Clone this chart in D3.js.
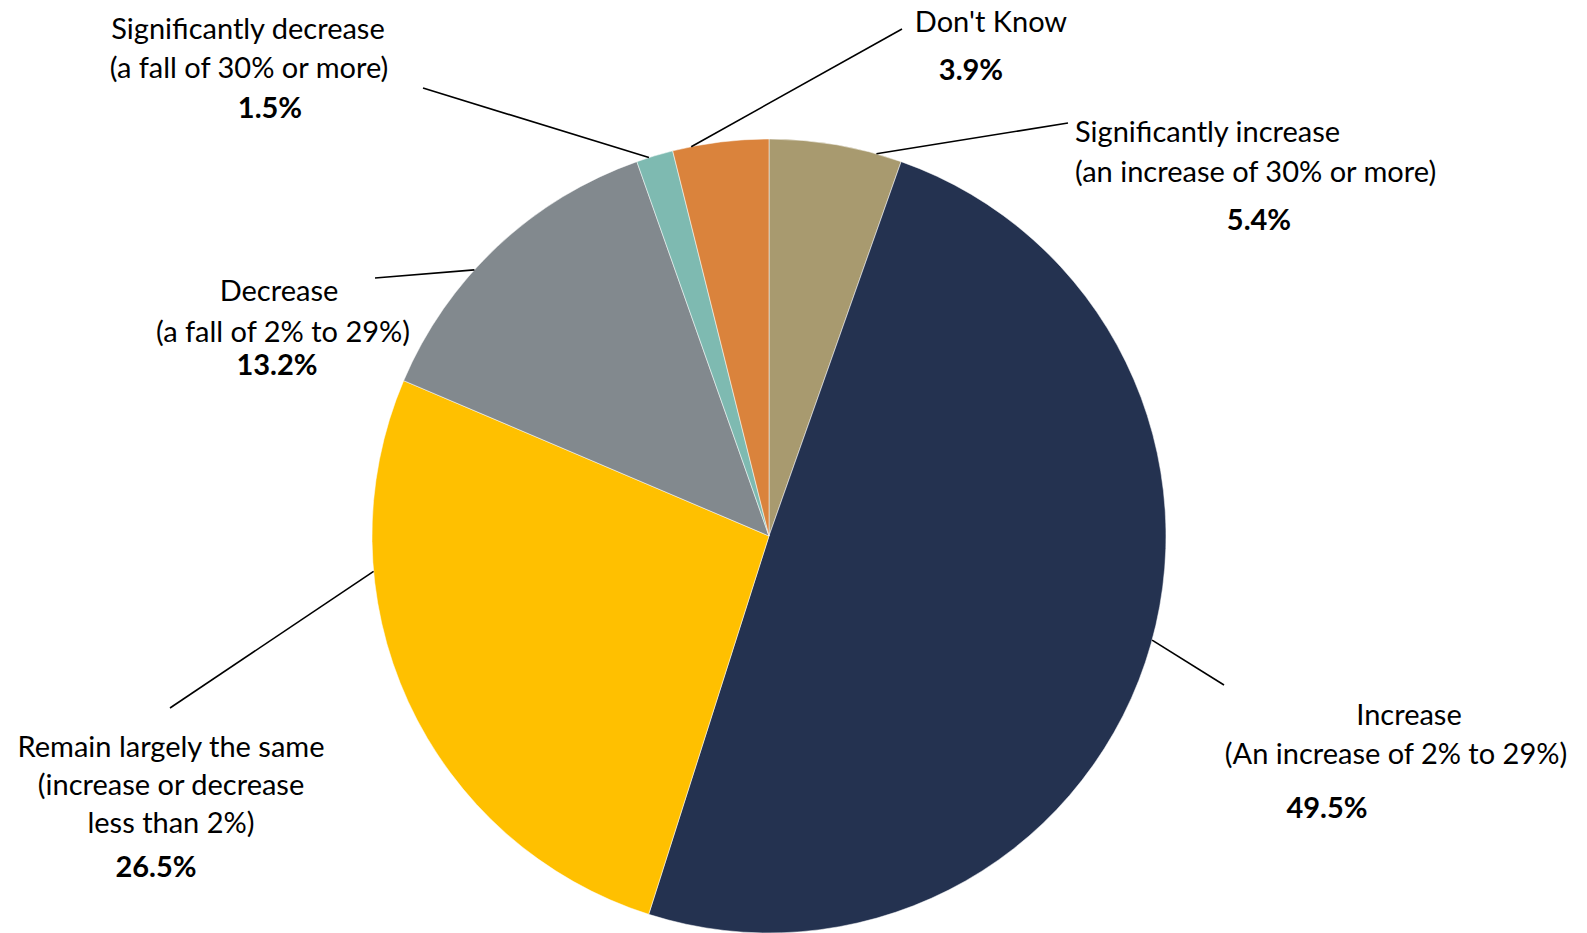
<!DOCTYPE html>
<html><head><meta charset="utf-8">
<script src="https://cdn.jsdelivr.net/npm/d3@7"></script>
<style>
html,body{margin:0;padding:0;background:#fff;}
svg text{font-family:Lato,"Open Sans",sans-serif;fill:#000;}
</style></head>
<body>
<svg id="chart" width="1587" height="933"></svg>
<script>
// Data
const categories = [
  "Significantly increase",
  "Increase",
  "Remain largely the same",
  "Decrease",
  "Significantly decrease",
  "Don't Know"
];
const values = [5.4, 49.5, 26.5, 13.2, 1.5, 3.9];
const labelLines = [
  ["Significantly increase", "(an increase of 30% or more)"],
  ["Increase", "(An increase of 2% to 29%)"],
  ["Remain largely the same", "(increase or decrease", "less than 2%)"],
  ["Decrease", "(a fall of 2% to 29%)"],
  ["Significantly decrease", "(a fall of 30% or more)"],
  ["Don't Know"]
];
const valueLabels = values.map(v => v.toFixed(1) + "%");
const colors = ["#A89A6F", "#243250", "#FFC000", "#82898E", "#7EBAB1", "#DA833C"];

// Layout (label placement)
const cx = 769, cy = 536, R = 397;
const fontSize = 29;
const layout = [
  {lineAngle: 15.7, lineEnd: [1068, 123], anchor: "start", lines: [[1075, 132], [1075, 172]], val: [1259, 220]},
  {lineAngle: 105.2, lineEnd: [1224, 685], anchor: "middle", lines: [[1409, 715], [1396, 754]], val: [1327, 808]},
  {lineAngle: 264.9, lineEnd: [170, 708], anchor: "middle", lines: [[171, 747], [171, 785], [171, 823]], val: [156, 867]},
  {lineAngle: 312.1, lineEnd: [375, 278], anchor: "middle", lines: [[279, 291], [283, 332]], val: [277, 365]},
  {lineAngle: 342.4, lineEnd: [423, 88], anchor: "middle", lines: [[248, 29], [249, 68]], val: [270, 108]},
  {lineAngle: 348.7, lineEnd: [902, 29], anchor: "middle", lines: [[991, 22]], val: [971, 70]}
];

const svg = d3.select("#chart");
const g = svg.append("g").attr("transform", `translate(${cx},${cy})`);

const pie = d3.pie().sort(null).value(d => d)(values);
const arc = d3.arc().innerRadius(0).outerRadius(R);

g.selectAll("path.slice").data(pie).join("path")
  .attr("class", "slice")
  .attr("d", arc)
  .attr("fill", (d, i) => colors[i])
  .attr("stroke", "#fff")
  .attr("stroke-width", 0.5);

// leader lines
const toRad = a => a * Math.PI / 180;
svg.selectAll("line.leader").data(layout).join("line")
  .attr("class", "leader")
  .attr("x1", d => cx + R * Math.sin(toRad(d.lineAngle)))
  .attr("y1", d => cy - R * Math.cos(toRad(d.lineAngle)))
  .attr("x2", d => d.lineEnd[0])
  .attr("y2", d => d.lineEnd[1])
  .attr("stroke", "#000")
  .attr("stroke-width", 1.6);

// labels
layout.forEach((L, i) => {
  labelLines[i].forEach((t, j) => {
    svg.append("text")
      .attr("x", L.lines[j][0])
      .attr("y", L.lines[j][1])
      .attr("dy", "0.36em")
      .attr("text-anchor", L.anchor)
      .attr("font-size", fontSize)
      .text(t);
  });
  svg.append("text")
    .attr("x", L.val[0])
    .attr("y", L.val[1])
    .attr("dy", "0.36em")
    .attr("text-anchor", "middle")
    .attr("font-size", fontSize)
    .attr("font-weight", "bold")
    .text(valueLabels[i]);
});
</script>
</body></html>
